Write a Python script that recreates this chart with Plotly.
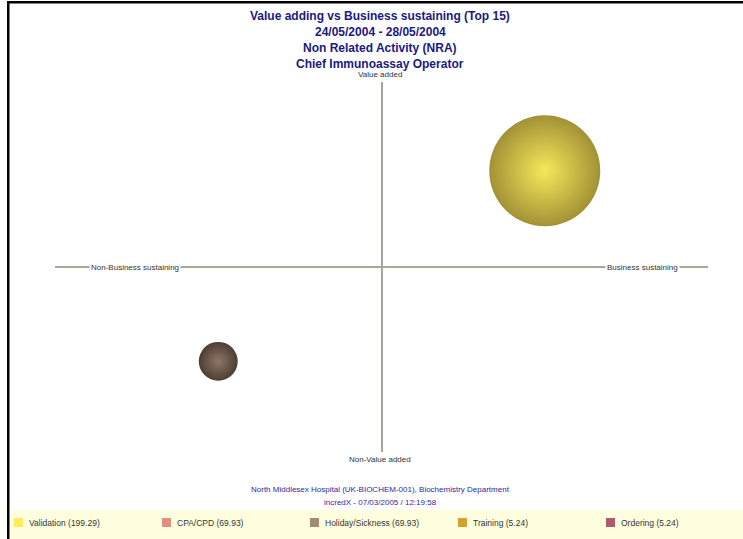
import plotly.graph_objects as go

# ---- data ----
bubble_names = ["Validation", "Holiday/Sickness"]
bubble_x = [0.50, -0.50]          # business sustaining axis
bubble_y = [0.52, -0.51]          # value added axis
bubble_val = [199.29, 69.93]
bubble_outer = ["#A29236", "#4C3E32"]
bubble_center = ["#F6E85A", "#8E7666"]

legend_names = ["Validation", "CPA/CPD", "Holiday/Sickness", "Training", "Ordering"]
legend_vals = [199.29, 69.93, 69.93, 5.24, 5.24]
legend_colors = ["#FFEB5C", "#E0907E", "#A08A78", "#D4A030", "#B05A70"]

title_lines = ["Value adding vs Business sustaining (Top 15)", "24/05/2004 - 28/05/2004",
               "Non Related Activity (NRA)", "Chief Immunoassay Operator"]
footer_lines = ["North Middlesex Hospital (UK-BIOCHEM-001), Biochemistry Department",
                "incredX - 07/03/2005 / 12:19:58"]
axis_labels = {"top": "Value added", "bottom": "Non-Value added",
               "left": "Non-Business sustaining", "right": "Business sustaining"}

# ---- layout geometry (pixels) ----
W, H = 743, 539
L, R, T, B = 55, 35, 82, 87
PW, PH = W - L - R, H - T - B


def px(p):
    return (p - L) / PW


def py(p):
    return (H - B - p) / PH


FONT = "Liberation Sans, Arial, sans-serif"

fig = go.Figure()
maxdiam = 111
sizeref = max(bubble_val) / maxdiam
for i in range(len(bubble_names)):
    fig.add_trace(go.Scatter(
        x=[bubble_x[i]], y=[bubble_y[i]], mode="markers", name=bubble_names[i],
        showlegend=False, hoverinfo="name",
        marker=dict(size=[bubble_val[i]], sizemode="diameter", sizeref=sizeref,
                    color=bubble_outer[i], opacity=1, line=dict(width=0),
                    gradient=dict(type="radial", color=bubble_center[i]))))

shapes = []
annotations = []

# border
shapes.append(dict(type="rect", xref="paper", yref="paper", x0=px(7), x1=px(9.5),
                   y0=py(539), y1=py(1), fillcolor="black", line=dict(width=0), layer="above"))
shapes.append(dict(type="rect", xref="paper", yref="paper", x0=px(7), x1=px(743),
                   y0=py(3.5), y1=py(1), fillcolor="black", line=dict(width=0), layer="above"))

# legend band
shapes.append(dict(type="rect", xref="paper", yref="paper", x0=px(9.5), x1=px(743),
                   y0=py(539), y1=py(510), fillcolor="#FFFFDF", line=dict(width=0), layer="below"))
leg_x = [14, 162, 310, 458, 606]
for i, nm in enumerate(legend_names):
    x0 = leg_x[i]
    shapes.append(dict(type="rect", xref="paper", yref="paper", x0=px(x0), x1=px(x0 + 9),
                       y0=py(527), y1=py(518), fillcolor=legend_colors[i], line=dict(width=0)))
    annotations.append(dict(xref="paper", yref="paper", x=px(x0 + 13), y=py(522.5),
                            text=f"{nm} ({legend_vals[i]:.2f})", showarrow=False,
                            xanchor="left", yanchor="middle",
                            font=dict(family=FONT, size=8.5, color="#333333")))

# title lines
for i, t in enumerate(title_lines):
    annotations.append(dict(xref="paper", yref="paper", x=px(380), y=py(16.5 + 16 * i),
                            text=f"<b>{t}</b>", showarrow=False, xanchor="center", yanchor="middle",
                            font=dict(family=FONT, size=12, color="#1A1A80")))

# footer lines
for i, t in enumerate(footer_lines):
    annotations.append(dict(xref="paper", yref="paper", x=px(380), y=py(489 + 13 * i),
                            text=t, showarrow=False, xanchor="center", yanchor="middle",
                            font=dict(family=FONT, size=8, color="#2B2B9C")))

# axis labels
lab_font = dict(family=FONT, size=8, color="#333333")
annotations.append(dict(xref="paper", yref="paper", x=px(380), y=py(75), text=axis_labels["top"],
                        showarrow=False, xanchor="center", yanchor="middle", font=lab_font))
annotations.append(dict(xref="paper", yref="paper", x=px(380), y=py(459), text=axis_labels["bottom"],
                        showarrow=False, xanchor="center", yanchor="middle", font=lab_font))
annotations.append(dict(xref="paper", yref="paper", x=px(135), y=py(267), text=axis_labels["left"],
                        showarrow=False, xanchor="center", yanchor="middle", font=lab_font,
                        bgcolor="white", borderpad=1))
annotations.append(dict(xref="paper", yref="paper", x=px(642), y=py(267), text=axis_labels["right"],
                        showarrow=False, xanchor="center", yanchor="middle", font=lab_font,
                        bgcolor="white", borderpad=1))

axis_common = dict(range=[-1, 1], showgrid=False, showticklabels=False, ticks="",
                   showline=False, zeroline=True, zerolinecolor="#A9A697", zerolinewidth=2,
                   fixedrange=True)

fig.update_layout(
    width=W, height=H, autosize=False,
    margin=dict(l=L, r=R, t=T, b=B, pad=0),
    paper_bgcolor="white", plot_bgcolor="white",
    xaxis=axis_common, yaxis=axis_common,
    shapes=shapes, annotations=annotations,
    showlegend=False,
)

fig.write_html("out.html")
